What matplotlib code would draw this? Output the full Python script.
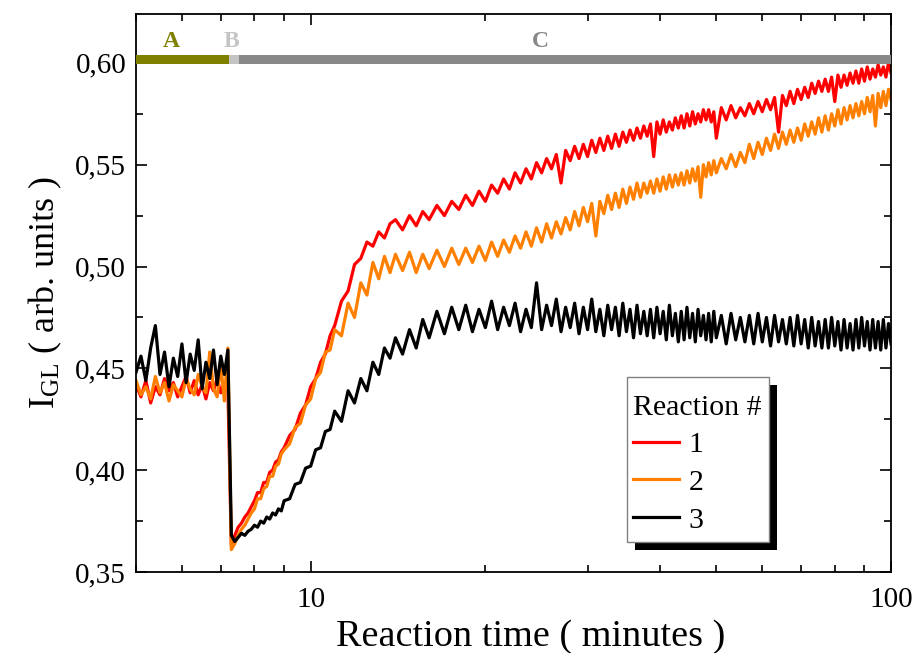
import numpy as np
import matplotlib.pyplot as plt
from matplotlib.ticker import FixedLocator, LogLocator, NullFormatter, FuncFormatter, MultipleLocator
from matplotlib.patches import Rectangle

plt.rcParams['font.family'] = ['Liberation Serif', 'DejaVu Serif']
plt.rcParams['mathtext.fontset'] = 'custom'
plt.rcParams['mathtext.rm'] = 'Liberation Serif'

## Data
# sample times (minutes), shared by the three reactions
t = [5.0, 5.1, 5.2, 5.3, 5.4, 5.5, 5.6, 5.7, 5.8, 5.9,
     6.0, 6.1, 6.2, 6.3, 6.4, 6.5, 6.6, 6.7, 6.8, 6.9,
     7.0, 7.1, 7.2, 7.3, 7.4, 7.5, 7.6, 7.7, 7.8, 7.9,
     8.0, 8.1, 8.2, 8.3, 8.4, 8.5, 8.6, 8.7, 8.8, 8.9,
     9.0, 9.2, 9.4, 9.6, 9.8, 10.0, 10.2, 10.4, 10.6, 10.8,
     11.0, 11.3, 11.6, 11.9, 12.2, 12.5, 12.8, 13.1, 13.4, 13.7,
     14.0, 14.4, 14.8, 15.2, 15.6, 16.0, 16.5, 17.0, 17.5, 18.0,
     18.5, 19.0, 19.5, 20.0, 20.5, 21.0, 21.5, 22.0, 22.5, 23.0,
     23.5, 24.0, 24.5, 25.0, 25.5, 26.0, 26.5, 27.0, 27.5, 28.0,
     28.5, 29.0, 29.5, 30.0, 30.5, 31.0, 31.5, 32.0, 32.5, 33.0,
     33.5, 34.0, 34.5, 35.0, 35.5, 36.0, 36.5, 37.0, 37.5, 38.0,
     38.5, 39.0, 39.5, 40.0, 40.5, 41.0, 41.5, 42.0, 42.5, 43.0,
     43.5, 44.0, 44.5, 45.0, 45.5, 46.0, 46.5, 47.0, 47.5, 48.0,
     48.5, 49.0, 49.5, 50, 51, 52, 53, 54, 55, 56,
     57, 58, 59, 60, 61, 62, 63, 64, 65, 66,
     67, 68, 69, 70, 71, 72, 73, 74, 75, 76,
     77, 78, 79, 80, 81, 82, 83, 84, 85, 86,
     87, 88, 89, 90, 91, 92, 93, 94, 95, 96,
     97, 98, 99, 100]

# Reaction 1
y1 = [0.442, 0.436, 0.444, 0.433, 0.441, 0.437, 0.445, 0.439, 0.443, 0.436,
      0.441, 0.446, 0.438, 0.444, 0.437, 0.442, 0.435, 0.443, 0.439, 0.445,
      0.438, 0.443, 0.440, 0.363, 0.368, 0.372, 0.374, 0.377, 0.379, 0.382,
      0.385, 0.389, 0.389, 0.394, 0.394, 0.399, 0.400, 0.404, 0.405, 0.409,
      0.411, 0.417, 0.420, 0.428, 0.432, 0.441, 0.445, 0.453, 0.457, 0.466,
      0.471, 0.483, 0.488, 0.501, 0.504, 0.512, 0.510, 0.517, 0.514, 0.521,
      0.523, 0.518, 0.525, 0.520, 0.527, 0.523, 0.530, 0.525, 0.532, 0.528,
      0.535, 0.530, 0.537, 0.532, 0.540, 0.536, 0.543, 0.538, 0.546, 0.541,
      0.548, 0.543, 0.551, 0.546, 0.553, 0.548, 0.555, 0.541, 0.557, 0.552,
      0.559, 0.553, 0.560, 0.554, 0.562, 0.556, 0.563, 0.557, 0.564, 0.558,
      0.565, 0.559, 0.566, 0.561, 0.567, 0.562, 0.568, 0.563, 0.569, 0.564,
      0.570, 0.554, 0.571, 0.565, 0.572, 0.566, 0.571, 0.567, 0.573, 0.568,
      0.574, 0.568, 0.575, 0.569, 0.576, 0.570, 0.575, 0.571, 0.577, 0.572,
      0.577, 0.571, 0.576, 0.563, 0.578, 0.572, 0.579, 0.573, 0.578, 0.574,
      0.580, 0.575, 0.581, 0.576, 0.582, 0.577, 0.583, 0.566, 0.584, 0.579,
      0.586, 0.580, 0.587, 0.582, 0.588, 0.583, 0.590, 0.585, 0.591, 0.586,
      0.592, 0.586, 0.593, 0.581, 0.594, 0.588, 0.594, 0.589, 0.595, 0.590,
      0.596, 0.590, 0.597, 0.591, 0.598, 0.592, 0.597, 0.593, 0.599, 0.594,
      0.598, 0.593, 0.600, 0.595]

# Reaction 2
y2 = [0.444, 0.437, 0.441, 0.435, 0.446, 0.438, 0.443, 0.434, 0.442, 0.439,
      0.436, 0.445, 0.440, 0.437, 0.447, 0.441, 0.438, 0.458, 0.440, 0.436,
      0.452, 0.434, 0.460, 0.361, 0.364, 0.368, 0.371, 0.373, 0.376, 0.379,
      0.381, 0.386, 0.386, 0.391, 0.392, 0.397, 0.397, 0.402, 0.403, 0.408,
      0.410, 0.413, 0.421, 0.423, 0.432, 0.435, 0.445, 0.448, 0.458, 0.459,
      0.469, 0.466, 0.482, 0.475, 0.492, 0.486, 0.502, 0.494, 0.505, 0.497,
      0.506, 0.498, 0.507, 0.497, 0.506, 0.499, 0.508, 0.500, 0.509, 0.501,
      0.509, 0.502, 0.510, 0.503, 0.512, 0.505, 0.513, 0.507, 0.515, 0.509,
      0.517, 0.510, 0.519, 0.512, 0.521, 0.514, 0.522, 0.516, 0.524, 0.518,
      0.527, 0.520, 0.529, 0.522, 0.531, 0.515, 0.532, 0.526, 0.535, 0.528,
      0.536, 0.529, 0.538, 0.531, 0.539, 0.533, 0.541, 0.534, 0.541, 0.536,
      0.542, 0.536, 0.543, 0.537, 0.544, 0.538, 0.545, 0.539, 0.545, 0.540,
      0.546, 0.540, 0.547, 0.541, 0.548, 0.542, 0.549, 0.534, 0.550, 0.544,
      0.551, 0.545, 0.552, 0.546, 0.553, 0.548, 0.555, 0.549, 0.556, 0.551,
      0.560, 0.553, 0.561, 0.555, 0.563, 0.557, 0.565, 0.558, 0.566, 0.560,
      0.567, 0.561, 0.568, 0.562, 0.570, 0.564, 0.571, 0.565, 0.573, 0.566,
      0.574, 0.567, 0.575, 0.569, 0.577, 0.570, 0.578, 0.572, 0.579, 0.573,
      0.580, 0.574, 0.581, 0.575, 0.583, 0.576, 0.584, 0.569, 0.585, 0.578,
      0.586, 0.579, 0.587, 0.582]

# Reaction 3
y3 = [0.448, 0.456, 0.444, 0.460, 0.471, 0.447, 0.458, 0.441, 0.455, 0.446,
      0.462, 0.443, 0.457, 0.449, 0.464, 0.440, 0.453, 0.445, 0.459, 0.442,
      0.456, 0.447, 0.459, 0.368, 0.365, 0.367, 0.369, 0.368, 0.370, 0.371,
      0.373, 0.372, 0.375, 0.374, 0.377, 0.376, 0.379, 0.378, 0.381, 0.380,
      0.385, 0.386, 0.393, 0.394, 0.401, 0.402, 0.410, 0.411, 0.419, 0.420,
      0.429, 0.424, 0.439, 0.433, 0.445, 0.439, 0.453, 0.447, 0.460, 0.455,
      0.465, 0.457, 0.469, 0.460, 0.474, 0.465, 0.478, 0.467, 0.480, 0.469,
      0.481, 0.468, 0.479, 0.470, 0.483, 0.469, 0.480, 0.471, 0.482, 0.468,
      0.479, 0.470, 0.492, 0.469, 0.481, 0.471, 0.484, 0.468, 0.480, 0.470,
      0.482, 0.467, 0.480, 0.469, 0.484, 0.468, 0.479, 0.466, 0.481, 0.469,
      0.480, 0.466, 0.482, 0.468, 0.479, 0.465, 0.481, 0.467, 0.478, 0.466,
      0.479, 0.465, 0.480, 0.467, 0.478, 0.464, 0.481, 0.466, 0.477, 0.463,
      0.478, 0.464, 0.480, 0.465, 0.477, 0.463, 0.479, 0.466, 0.476, 0.464,
      0.477, 0.463, 0.478, 0.465, 0.476, 0.462, 0.477, 0.464, 0.475, 0.463,
      0.476, 0.462, 0.477, 0.463, 0.475, 0.461, 0.476, 0.463, 0.474, 0.462,
      0.475, 0.461, 0.476, 0.462, 0.474, 0.460, 0.475, 0.461, 0.473, 0.460,
      0.474, 0.460, 0.475, 0.461, 0.473, 0.459, 0.474, 0.460, 0.472, 0.459,
      0.474, 0.460, 0.475, 0.461, 0.473, 0.459, 0.474, 0.460, 0.473, 0.459,
      0.474, 0.460, 0.472, 0.462]

series = [y1, y2, y3]
series_names = ['1', '2', '3']
series_colors = ['#ff0000', '#ff8000', '#000000']

# reaction phases shown as the bar along the top
phase_names = ['A', 'B', 'C']
phase_start = [5.0, 7.23, 7.52]
phase_end = [7.23, 7.52, 100.0]
phase_colors = ['#808000', '#c4c4c4', '#888888']

## Figure
fig = plt.figure(figsize=(9.15, 6.53), dpi=100)
ax = fig.add_axes([0.1486, 0.124, 0.8252, 0.8546])

for y, name, c in zip(series, series_names, series_colors):
  ax.plot(t, y, '-', color=c, lw=2.3, label=name)

# phase bar
for s, e, c in zip(phase_start, phase_end, phase_colors):
  ax.broken_barh([(s, e - s)], (0.5995, 0.0043), facecolors=c, zorder=3)
label_x = [5.76, 7.31, 24.9]
for name, x, c in zip(phase_names, label_x, phase_colors):
  ax.text(x, 0.6052, name, color=c, fontsize=17, fontweight='bold',
          ha='center', va='bottom')

ax.set_xscale('log')
ax.set_xlim(5, 100)
ax.set_ylim(0.35, 0.624)

ax.xaxis.set_major_locator(FixedLocator([10, 100]))
ax.xaxis.set_major_formatter(FuncFormatter(lambda v, p: '%d' % v))
ax.xaxis.set_minor_locator(LogLocator(base=10, subs=np.arange(2, 10)))
ax.xaxis.set_minor_formatter(NullFormatter())
ax.yaxis.set_major_locator(FixedLocator([0.35, 0.40, 0.45, 0.50, 0.55, 0.60]))
ax.yaxis.set_major_formatter(FuncFormatter(lambda v, p: ('%.2f' % v).replace('.', ',')))
ax.yaxis.set_minor_locator(MultipleLocator(0.025))

ax.tick_params(which='both', direction='in', top=True, right=True, width=1.2)
ax.tick_params(which='major', length=8, labelsize=21)
ax.tick_params(axis='x', which='major', pad=11)
ax.tick_params(axis='y', which='major', pad=7)
ax.tick_params(which='minor', length=5)
for sp in ax.spines.values():
  sp.set_linewidth(1.3)

ax.set_xlabel('Reaction time ( minutes )', fontsize=27.5, labelpad=2)
ax.xaxis.set_label_coords(0.523, -0.085)
ax.set_ylabel(r'$\mathregular{I_{GL}}$ ( arb. units )', fontsize=26, labelpad=8)

# legend: own frame and solid black shadow, entries drawn without frame
ax.add_patch(Rectangle((0.6609, 0.0395), 0.1881, 0.2957, transform=ax.transAxes,
                       facecolor='black', edgecolor='none', zorder=4.8))
ax.add_patch(Rectangle((0.6503, 0.0538), 0.1881, 0.2957, transform=ax.transAxes,
                       facecolor='white', edgecolor='#808080', lw=1.0, zorder=4.9))
leg = ax.legend(title='Reaction #', loc='upper left', bbox_to_anchor=(0.6585, 0.318),
                borderaxespad=0, borderpad=0, fontsize=21.5, title_fontsize=21.5,
                frameon=False, handlelength=1.55, handletextpad=0.3,
                labelspacing=0.36, alignment='left')
leg.set_zorder(5)

fig.savefig('out.png', dpi=100)
